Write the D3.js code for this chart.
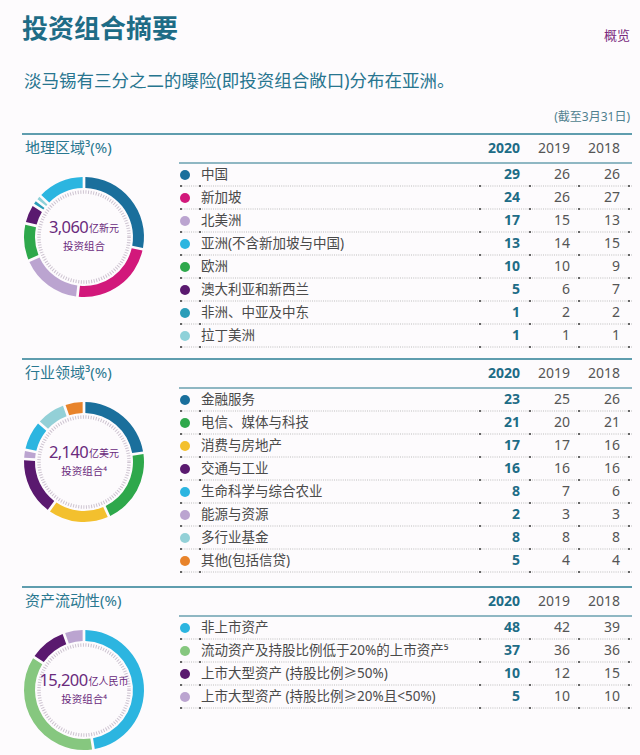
<!DOCTYPE html>
<html><head><meta charset="utf-8">
<script src="https://cdn.jsdelivr.net/npm/d3@7"></script>
<style>
html,body{margin:0;padding:0;background:#fdfbfd;}
svg{display:block;font-family:"Noto Sans","Noto Sans CJK SC",sans-serif;}
</style></head>
<body>
<svg id="chart" width="640" height="755"></svg>
<script>
// ---------- data ----------
const years = ["2020", "2019", "2018"];

const geoCategories = ["中国", "新加坡", "北美洲", "亚洲(不含新加坡与中国)", "欧洲", "澳大利亚和新西兰", "非洲、中亚及中东", "拉丁美洲"];
const geo2020 = [29, 24, 17, 13, 10, 5, 1, 1];
const geo2019 = [26, 26, 15, 14, 10, 6, 2, 1];
const geo2018 = [26, 27, 13, 15, 9, 7, 2, 1];
const geoColors = ["#1a6f9c", "#d2187b", "#bba4d0", "#2cb5e0", "#2ea84b", "#5a196f", "#2a9db8", "#8fd1d9"];
const geoPieOrder = ["中国", "新加坡", "北美洲", "欧洲", "澳大利亚和新西兰", "非洲、中亚及中东", "拉丁美洲", "亚洲(不含新加坡与中国)"];

const indCategories = ["金融服务", "电信、媒体与科技", "消费与房地产", "交通与工业", "生命科学与综合农业", "能源与资源", "多行业基金", "其他(包括信贷)"];
const ind2020 = [23, 21, 17, 16, 8, 2, 8, 5];
const ind2019 = [25, 20, 17, 16, 7, 3, 8, 4];
const ind2018 = [26, 21, 16, 16, 6, 3, 8, 4];
const indColors = ["#1a6f9c", "#2ea84b", "#f3c02e", "#5a196f", "#2cb5e0", "#bba4d0", "#93d0d7", "#e8832b"];
const indPieOrder = ["金融服务", "电信、媒体与科技", "消费与房地产", "交通与工业", "能源与资源", "生命科学与综合农业", "多行业基金", "其他(包括信贷)"];

const liqCategories = ["非上市资产", "流动资产及持股比例低于20%的上市资产⁵", "上市大型资产 (持股比例≥50%)", "上市大型资产 (持股比例≥20%且<50%)"];
const liq2020 = [48, 37, 10, 5];
const liq2019 = [42, 36, 12, 10];
const liq2018 = [39, 36, 15, 10];
const liqColors = ["#2cb5e0", "#86c77f", "#5a196f", "#bba4d0"];
const liqPieOrder = liqCategories;

const sectionTitles = ["地理区域³(%)", "行业领域³(%)", "资产流动性(%)"];
const centerNumbers = ["3,060", "2,140", "15,200"];
const centerUnits = ["亿新元", "亿美元", "亿人民币"];
const centerSubs = ["投资组合", "投资组合⁴", "投资组合⁴"];

// ---------- drawing ----------
const svg = d3.select("#chart");
const teal = "#1e6c86";
const purpleText = "#6a2a7c";

svg.append("text").attr("x", 22).attr("y", 31).attr("dominant-baseline", "middle")
  .attr("font-size", 26).attr("font-weight", 700).attr("fill", teal).text("投资组合摘要");
svg.append("text").attr("x", 630).attr("y", 37).attr("text-anchor", "end").attr("dominant-baseline", "middle")
  .attr("font-size", 13).attr("fill", "#7b2b7e").text("概览");
svg.append("text").attr("x", 24).attr("y", 82).attr("dominant-baseline", "middle")
  .attr("font-size", 17.5).attr("fill", "#27758f").text("淡马锡有三分之二的曝险(即投资组合敞口)分布在亚洲。");
svg.append("text").attr("x", 630).attr("y", 118).attr("text-anchor", "end").attr("dominant-baseline", "middle")
  .attr("font-size", 12).attr("fill", "#4f7f8e").text("(截至3月31日)");

const sections = [
  {top: 134, cats: geoCategories, vals: [geo2020, geo2019, geo2018], colors: geoColors, order: geoPieOrder},
  {top: 359, cats: indCategories, vals: [ind2020, ind2019, ind2018], colors: indColors, order: indPieOrder},
  {top: 587, cats: liqCategories, vals: [liq2020, liq2019, liq2018], colors: liqColors, order: liqPieOrder}
];

const x = d3.scalePoint().domain(years).range([520, 620]);

sections.forEach((s, si) => {
  const g = svg.append("g");
  const color = d3.scaleOrdinal().domain(s.cats).range(s.colors);
  const v2020 = new Map(s.cats.map((c, i) => [c, s.vals[0][i]]));

  g.append("line").attr("x1", 22).attr("x2", 632).attr("y1", s.top).attr("y2", s.top)
    .attr("stroke", "#5f9dae").attr("stroke-width", 2);
  g.append("text").attr("x", 25).attr("y", s.top + 15).attr("dominant-baseline", "middle")
    .attr("font-size", 15).attr("fill", "#2a7890").text(sectionTitles[si]);
  g.selectAll(".yr").data(years).join("text")
    .attr("x", d => x(d)).attr("y", s.top + 15).attr("text-anchor", "end").attr("dominant-baseline", "middle")
    .attr("font-size", 14).attr("font-weight", (d, i) => i === 0 ? 700 : 400)
    .attr("fill", (d, i) => i === 0 ? teal : "#555").text(d => d);
  g.append("line").attr("x1", 179).attr("x2", 632).attr("y1", s.top + 29).attr("y2", s.top + 29)
    .attr("stroke", "#6aa0af").attr("stroke-width", 1.6);

  const y = d3.scaleBand().domain(s.cats).range([s.top + 29.5, s.top + 29.5 + 23 * s.cats.length]);
  const rows = g.selectAll(".row").data(s.cats).join("g")
    .attr("transform", d => `translate(0,${y(d) + y.bandwidth() / 2})`);
  rows.append("circle").attr("cx", 185).attr("cy", 0).attr("r", 5).attr("fill", d => color(d));
  rows.append("text").attr("x", 201).attr("y", 0).attr("dominant-baseline", "middle")
    .attr("font-size", 13.5).attr("fill", "#4a4a4a").text(d => d);
  years.forEach((yr, yi) => {
    rows.append("text").attr("x", x(yr)).attr("y", 0).attr("text-anchor", "end").attr("dominant-baseline", "middle")
      .attr("font-size", 14).attr("font-weight", yi === 0 ? 700 : 400)
      .attr("fill", yi === 0 ? teal : "#555")
      .text(d => s.vals[yi][s.cats.indexOf(d)]);
  });
  rows.append("line").attr("x1", 180).attr("x2", 632).attr("y1", 11).attr("y2", 11)
    .attr("stroke", "#bdbdbd").attr("stroke-width", 1).attr("stroke-dasharray", "1,1.2");
  [181, 200, 480, 530, 579, 629].forEach(tx => {
    rows.append("rect").attr("x", tx - 1).attr("y", 10).attr("width", 2).attr("height", 2).attr("fill", "#666");
  });

  const cx = 84, cy = s.top + 103;
  const dg = g.append("g").attr("transform", `translate(${cx},${cy})`);
  dg.append("circle").attr("r", 45).attr("fill", "none").attr("stroke", "#cdc3d0")
    .attr("stroke-width", 3.5).attr("stroke-dasharray", "1,1.6");
  const pie = d3.pie().sort(null).value(d => v2020.get(d)).padAngle(0.035);
  const arc = d3.arc().innerRadius(49).outerRadius(60);
  dg.selectAll("path").data(pie(s.order)).join("path")
    .attr("d", arc).attr("fill", d => color(d.data));
  const t = dg.append("text").attr("x", 0).attr("y", -8).attr("text-anchor", "middle").attr("dominant-baseline", "middle")
    .attr("fill", purpleText);
  t.append("tspan").attr("font-size", 16.5).attr("letter-spacing", -0.6).text(centerNumbers[si]);
  t.append("tspan").attr("font-size", 10).attr("dx", 1).text(centerUnits[si]);
  dg.append("text").attr("x", 0).attr("y", 10).attr("text-anchor", "middle").attr("dominant-baseline", "middle")
    .attr("font-size", 10.5).attr("fill", purpleText).text(centerSubs[si]);
});
</script>
</body></html>
